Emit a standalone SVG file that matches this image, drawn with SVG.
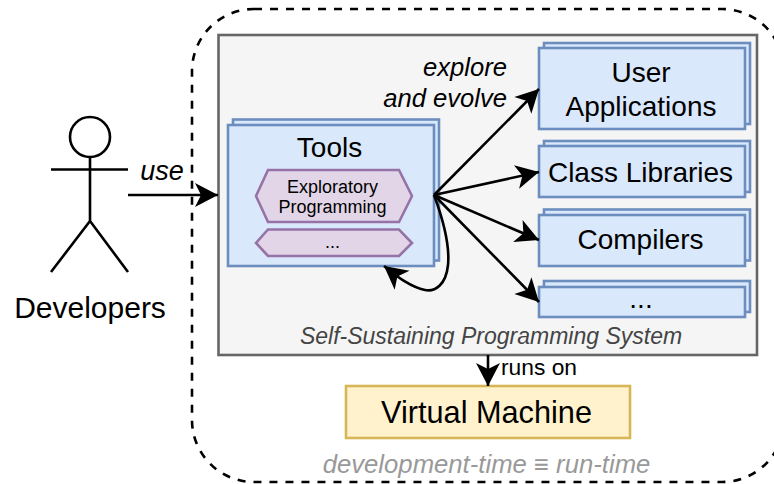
<svg xmlns="http://www.w3.org/2000/svg" width="774" height="484" viewBox="0 0 774 484">
<style>
text{font-family:"Liberation Sans",Arial,sans-serif;fill:#000;text-anchor:middle}
.it{font-style:italic}
.b{fill:#dae8fc;stroke:#6c8ebf;stroke-width:2.6}
.h{fill:#e1d5e7;stroke:#9673a6;stroke-width:2.6}
.l{fill:none;stroke:#000;stroke-width:2.6}
.t{font-size:28px}
.s{font-size:18px}
</style>
<defs>
<marker id="a" markerUnits="userSpaceOnUse" markerWidth="26" markerHeight="26" refX="23" refY="12" orient="auto" overflow="visible">
<path d="M0 0L23 12L0 24L6 12Z" fill="#000"/>
</marker>
</defs>
<rect id="boundary" x="192" y="9" width="592" height="473" rx="62" ry="62" fill="none" stroke="#000" stroke-width="2.6" stroke-dasharray="8 8"/>
<g id="system">
<rect x="218.500" y="35" width="538.500" height="320" fill="#f5f5f5" stroke="#666" stroke-width="2.600"/>
<text class="it" x="491" y="344" font-size="23" style="fill:#444">Self-Sustaining Programming System</text>
</g>
<g id="actor">
<circle class="l" cx="90" cy="137" r="20"/>
<path class="l" d="M90 157V221M51 169.500H128M90 221L51 272M90 221L128 272"/>
<text x="90" y="318" font-size="30">Developers</text>
</g>
<g id="tools">
<rect class="b" x="233" y="119.500" width="206" height="141"/>
<rect class="b" x="228" y="125" width="206" height="141"/>
<text x="329.500" y="157" font-size="28">Tools</text>
<path class="h" d="M268 170H399L412 196L399 222H268L256 196Z"/>
<text class="s" x="332.500" y="193">Exploratory</text>
<text class="s" x="332.500" y="213">Programming</text>
<path class="h" d="M268 229.500H399L412 243L399 256H268L256 243Z"/>
<text class="s" x="332.500" y="247.500">...</text>
</g>
<g id="apps">
<rect class="b" x="544" y="43" width="206" height="81"/>
<rect class="b" x="539" y="48" width="206" height="81"/>
<text class="t" x="641" y="82">User</text>
<text class="t" x="641" y="116">Applications</text>
</g>
<g id="libs">
<rect class="b" x="544" y="141" width="206" height="51"/>
<rect class="b" x="539" y="146" width="206" height="51"/>
<text class="t" x="640.500" y="182">Class Libraries</text>
</g>
<g id="compilers">
<rect class="b" x="544" y="209.500" width="206" height="51"/>
<rect class="b" x="539" y="215" width="206" height="51"/>
<text class="t" x="640.500" y="249">Compilers</text>
</g>
<g id="more">
<rect class="b" x="544" y="281" width="206" height="31"/>
<rect class="b" x="539" y="287" width="206" height="30"/>
<text class="t" x="641" y="308">...</text>
</g>
<g id="vm">
<rect x="346" y="386" width="284" height="52" fill="#fff2cc" stroke="#d6b656" stroke-width="2.600"/>
<text x="486.500" y="423" font-size="30.700">Virtual Machine</text>
</g>
<g id="connectors">
<path class="l" marker-end="url(#a)" d="M128 195H218"/>
<path class="l" marker-end="url(#a)" d="M434 195L539 89"/>
<path class="l" marker-end="url(#a)" d="M434 195L539 172"/>
<path class="l" marker-end="url(#a)" d="M434 195L539 240"/>
<path class="l" marker-end="url(#a)" d="M434 195L539 302"/>
<path class="l" marker-end="url(#a)" d="M434 195C444 222 450 245 448 265C446 285 435 292 425 290C410 287 398 277 384 266"/>
<path class="l" marker-end="url(#a)" d="M488 355V386"/>
</g>
<g id="labels">
<text class="it" x="162" y="180" font-size="27">use</text>
<text class="it" x="507" y="76" font-size="25.600" style="text-anchor:end">explore</text>
<text class="it" x="507" y="107" font-size="25.600" style="text-anchor:end">and evolve</text>
<text x="539" y="375" font-size="22.800">runs on</text>
<text class="it" x="486.500" y="473" font-size="25.700" style="fill:#999">development-time ≡ run-time</text>
</g>
</svg>
